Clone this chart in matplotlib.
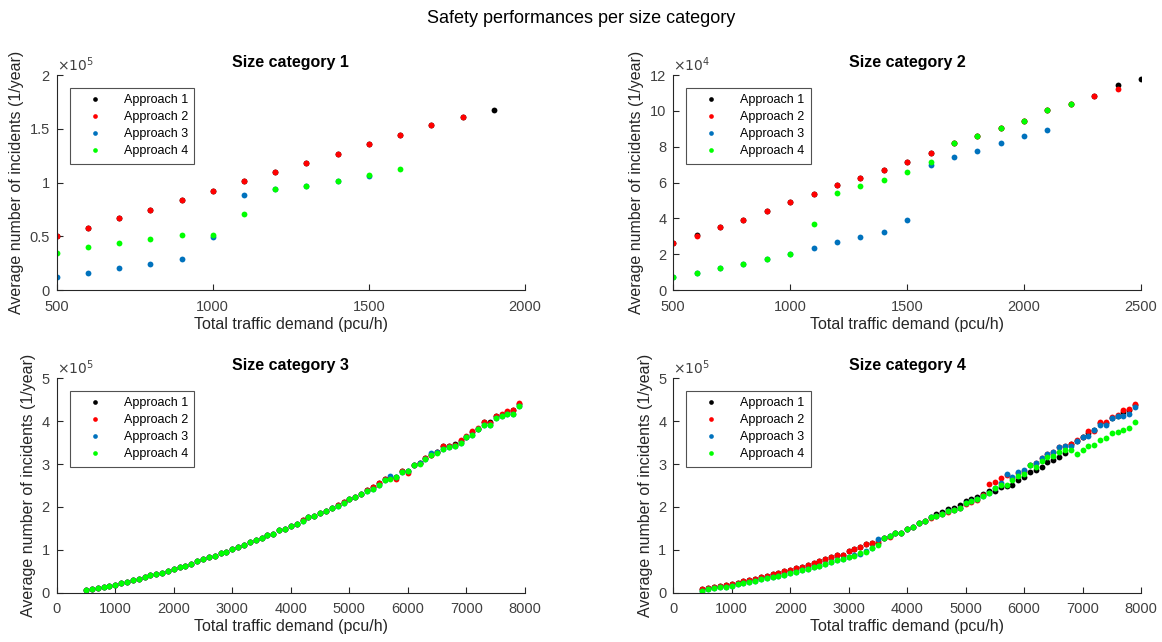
import matplotlib
matplotlib.use("Agg")
import matplotlib.pyplot as plt
from matplotlib.ticker import FuncFormatter

# ---- data (y values in units of 1e5 or 1e4, see SCALES) ----
labels = ["Approach 1", "Approach 2", "Approach 3", "Approach 4"]
colors = ["#000000", "#ff0000", "#0072bd", "#00ff00"]
titles = ["Size category 1", "Size category 2", "Size category 3", "Size category 4"]
scales = [5, 4, 5, 5]

# size category 1
x1_a1 = [500, 600, 700, 800, 900, 1000, 1100, 1200, 1300, 1400, 1500, 1600, 1700, 1800, 1900]
y1_a1 = [0.50, 0.577, 0.67, 0.747, 0.84, 0.926, 1.012, 1.10, 1.185, 1.268, 1.358, 1.441, 1.54, 1.608, 1.679]
x1_a2 = [500, 600, 700, 800, 900, 1000, 1100, 1200, 1300, 1400, 1500, 1600, 1700, 1800]
y1_a2 = [0.50, 0.577, 0.67, 0.747, 0.84, 0.926, 1.012, 1.10, 1.185, 1.268, 1.358, 1.441, 1.54, 1.608]
x1_a3 = [500, 600, 700, 800, 900, 1000, 1100, 1200, 1300, 1400, 1500]
y1_a3 = [0.127, 0.164, 0.207, 0.244, 0.29, 0.49, 0.883, 0.938, 0.969, 1.012, 1.065]
x1_a4 = [500, 600, 700, 800, 900, 1000, 1100, 1200, 1300, 1400, 1500, 1600]
y1_a4 = [0.346, 0.404, 0.435, 0.475, 0.515, 0.515, 0.713, 0.938, 0.969, 1.012, 1.068, 1.127]

# size category 2
x2_a1 = [500, 600, 700, 800, 900, 1000, 1100, 1200, 1300, 1400, 1500, 1600, 1700, 1800,
         1900, 2000, 2100, 2200, 2300, 2400, 2500]
y2_a1 = [2.65, 3.10, 3.51, 3.91, 4.41, 4.90, 5.35, 5.85, 6.26, 6.71, 7.18, 7.68, 8.20, 8.60,
         9.05, 9.44, 10.04, 10.41, 10.84, 11.46, 11.78]
x2_a2 = [500, 600, 700, 800, 900, 1000, 1100, 1200, 1300, 1400, 1500, 1600, 1700, 1800,
         1900, 2000, 2100, 2200, 2300, 2400]
y2_a2 = [2.65, 3.03, 3.51, 3.91, 4.41, 4.90, 5.35, 5.85, 6.26, 6.71, 7.18, 7.68, 8.20, 8.60,
         9.05, 9.44, 10.04, 10.41, 10.84, 11.21]
x2_a3 = [500, 600, 700, 800, 900, 1000, 1100, 1200, 1300, 1400, 1500, 1600, 1700, 1800,
         1900, 2000, 2100]
y2_a3 = [0.75, 0.95, 1.21, 1.46, 1.74, 2.04, 2.34, 2.69, 2.97, 3.25, 3.94, 7.00, 7.44, 7.76,
         8.24, 8.60, 8.95]
x2_a4 = [500, 600, 700, 800, 900, 1000, 1100, 1200, 1300, 1400, 1500, 1600, 1700, 1800,
         1900, 2000, 2100, 2200]
y2_a4 = [0.75, 0.95, 1.21, 1.46, 1.74, 2.04, 3.70, 5.44, 5.83, 6.17, 6.60, 7.16, 8.20, 8.60,
         9.05, 9.44, 10.04, 10.41]

# size categories 3 and 4: demand 500..7900 step 100
x_big = list(range(500, 8000, 100))

y3_a1 = [0.056, 0.086, 0.11, 0.133, 0.156, 0.18, 0.219, 0.257, 0.289, 0.327, 0.366, 0.406, 0.429, 0.467,
         0.506, 0.545, 0.592, 0.63, 0.677, 0.732, 0.779, 0.826,
         0.86, 0.919, 0.949, 1.026, 1.066, 1.113, 1.176, 1.222, 1.283, 1.346, 1.376, 1.463, 1.486,
         1.549, 1.603, 1.70, 1.766, 1.796, 1.859, 1.906, 1.969, 2.035, 2.12, 2.179, 2.24, 2.302,
         2.40, 2.46, 2.55, 2.64, 2.67, 2.70, 2.84, 2.83, 2.98, 3.02, 3.13, 3.22, 3.27, 3.42,
         3.43, 3.46, 3.54, 3.64, 3.75, 3.82, 3.97, 3.97, 4.11, 4.15, 4.21, 4.27, 4.39]
y3_a2 = [0.056, 0.086, 0.11, 0.133, 0.156, 0.18, 0.219, 0.257, 0.289, 0.327, 0.366, 0.406, 0.429, 0.467,
         0.506, 0.545, 0.592, 0.63, 0.677, 0.732, 0.779, 0.826,
         0.86, 0.919, 0.949, 1.026, 1.066, 1.113, 1.176, 1.222, 1.283, 1.346, 1.376, 1.463, 1.486,
         1.549, 1.603, 1.70, 1.766, 1.796, 1.859, 1.906, 1.969, 2.035, 2.12, 2.179, 2.24, 2.302,
         2.40, 2.47, 2.56, 2.66, 2.67, 2.66, 2.84, 2.80, 2.98, 3.02, 3.14, 3.22, 3.27, 3.42,
         3.43, 3.45, 3.56, 3.65, 3.77, 3.83, 3.99, 3.95, 4.12, 4.16, 4.23, 4.26, 4.42]
y3_a3 = [0.056, 0.086, 0.11, 0.133, 0.156, 0.18, 0.219, 0.257, 0.289, 0.327, 0.366, 0.406, 0.429, 0.467,
         0.506, 0.545, 0.592, 0.63, 0.677, 0.732, 0.779, 0.826,
         0.86, 0.919, 0.949, 1.026, 1.066, 1.113, 1.176, 1.222, 1.283, 1.346, 1.376, 1.463, 1.486,
         1.549, 1.603, 1.68, 1.766, 1.796, 1.859, 1.906, 1.969, 2.015, 2.10, 2.179, 2.24, 2.302,
         2.38, 2.42, 2.52, 2.62, 2.73, 2.69, 2.81, 2.83, 2.97, 3.03, 3.11, 3.26, 3.27, 3.34,
         3.40, 3.42, 3.50, 3.63, 3.68, 3.81, 3.90, 3.90, 4.07, 4.11, 4.16, 4.17, 4.35]
y3_a4 = [0.056, 0.086, 0.11, 0.133, 0.156, 0.18, 0.219, 0.257, 0.289, 0.327, 0.366, 0.406, 0.429, 0.467,
         0.506, 0.545, 0.592, 0.63, 0.677, 0.732, 0.779, 0.826,
         0.86, 0.919, 0.949, 1.026, 1.066, 1.113, 1.176, 1.222, 1.283, 1.346, 1.376, 1.463, 1.486,
         1.549, 1.603, 1.68, 1.766, 1.796, 1.859, 1.906, 1.969, 2.015, 2.10, 2.179, 2.24, 2.302,
         2.38, 2.42, 2.52, 2.62, 2.65, 2.69, 2.81, 2.83, 2.97, 3.00, 3.11, 3.21, 3.26, 3.34,
         3.40, 3.42, 3.50, 3.63, 3.68, 3.81, 3.90, 3.90, 4.07, 4.11, 4.16, 4.17, 4.35]

y4_a1 = [0.079, 0.103, 0.133, 0.156, 0.18, 0.203, 0.233, 0.266, 0.296, 0.327, 0.359, 0.39, 0.429, 0.467,
         0.499, 0.53, 0.576, 0.60, 0.646, 0.70, 0.746, 0.786, 0.826,
         0.872, 0.887, 0.965, 1.012, 1.059, 1.129, 1.159,
         1.15, 1.276, 1.323, 1.385, 1.40, 1.486, 1.54, 1.626, 1.68,
         1.77, 1.83, 1.88, 1.94, 1.97, 2.05, 2.13, 2.18, 2.22, 2.30,
         2.36, 2.38, 2.47, 2.49, 2.51, 2.63, 2.69, 2.81, 2.86, 2.93, 3.04, 3.09, 3.17, 3.26,
         3.46, 3.54, 3.62, 3.72, 3.79, 3.96, 3.95, 4.08, 4.13, 4.22, 4.27, 4.38]
y4_a2 = [0.079, 0.103, 0.133, 0.156, 0.18, 0.203, 0.233, 0.266, 0.296, 0.327, 0.359, 0.39, 0.429, 0.467,
         0.499, 0.53, 0.576, 0.60, 0.646, 0.70, 0.746, 0.786, 0.826,
         0.872, 0.887, 0.965, 1.012, 1.059, 1.129, 1.159, 1.20,
         1.276, 1.31, 1.385, 1.39, 1.486, 1.53, 1.626, 1.67, 1.74, 1.78, 1.83, 1.89, 1.92, 1.97,
         2.07, 2.12, 2.16,
         2.27, 2.54, 2.57, 2.67, 2.74, 2.68, 2.80, 2.84, 2.97, 3.02, 3.13, 3.23, 3.27, 3.40,
         3.43, 3.47, 3.55, 3.63, 3.76, 3.78, 3.99, 3.97, 4.09, 4.14, 4.25, 4.29, 4.41]
y4_a3 = [0.047, 0.079, 0.11, 0.133, 0.14, 0.163, 0.196, 0.226, 0.25, 0.28, 0.313, 0.336, 0.359, 0.39,
         0.42, 0.453, 0.483, 0.52, 0.553, 0.60, 0.63, 0.677, 0.716,
         0.755, 0.786, 0.84, 0.87, 0.91, 0.97, 1.04, 1.245,
         1.276, 1.323, 1.385, 1.40, 1.486, 1.54, 1.626, 1.68, 1.759, 1.797, 1.843, 1.906, 1.929,
         1.983, 2.085, 2.132, 2.179, 2.26, 2.33, 2.43,
         2.55, 2.77, 2.69, 2.81, 2.85, 2.98, 3.03, 3.14, 3.24, 3.28, 3.39, 3.42,
         3.43, 3.53, 3.62, 3.66, 3.80, 3.91, 3.90, 4.07, 4.11, 4.13, 4.17, 4.34]
y4_a4 = [0.047, 0.079, 0.11, 0.133, 0.14, 0.163, 0.196, 0.226, 0.25, 0.28, 0.313, 0.336, 0.359, 0.39,
         0.42, 0.453, 0.483, 0.52, 0.553, 0.60, 0.63, 0.677, 0.716,
         0.755, 0.786, 0.84, 0.86, 0.919, 0.96, 1.035, 1.105,
         1.276, 1.323, 1.385, 1.40, 1.486, 1.54, 1.626, 1.68, 1.759, 1.797, 1.843, 1.906, 1.929,
         1.983, 2.085, 2.132, 2.179,
         2.26, 2.33, 2.43, 2.52, 2.52, 2.62, 2.72, 2.76, 2.98, 2.93, 3.06, 3.17, 3.19, 3.27,
         3.32, 3.32, 3.23, 3.33, 3.41, 3.45, 3.55, 3.60, 3.73, 3.75, 3.80, 3.84, 3.97]

panels = [
    [(x1_a1, y1_a1), (x1_a2, y1_a2), (x1_a3, y1_a3), (x1_a4, y1_a4)],
    [(x2_a1, y2_a1), (x2_a2, y2_a2), (x2_a3, y2_a3), (x2_a4, y2_a4)],
    [(x_big, y3_a1), (x_big, y3_a2), (x_big, y3_a3), (x_big, y3_a4)],
    [(x_big, y4_a1), (x_big, y4_a2), (x_big, y4_a3), (x_big, y4_a4)],
]
xlims = [(500, 2000), (500, 2500), (0, 8000), (0, 8000)]
ylims = [(0, 2), (0, 12), (0, 5), (0, 5)]
xticks = [[500, 1000, 1500, 2000], [500, 1000, 1500, 2000, 2500],
          list(range(0, 8001, 1000)), list(range(0, 8001, 1000))]
yticks = [[0, 0.5, 1, 1.5, 2], [0, 2, 4, 6, 8, 10, 12], [0, 1, 2, 3, 4, 5], [0, 1, 2, 3, 4, 5]]

plt.rcParams["font.family"] = "Liberation Sans"
fig = plt.figure(figsize=(11.62, 6.42), dpi=100)
fig.suptitle("Safety performances per size category", fontsize=13, y=0.985)

positions = [
    [0.0488, 0.548, 0.403, 0.335],
    [0.5794, 0.548, 0.4025, 0.335],
    [0.0488, 0.0768, 0.403, 0.334],
    [0.5794, 0.0768, 0.4025, 0.334],
]
axis_gray = "#262626"
label_gray = "#404040"

for i, series in enumerate(panels):
    ax = fig.add_axes(positions[i])
    for (xs, ys), lab, col in zip(series, labels, colors):
        ax.plot(xs, ys, linestyle="none", marker="o", markersize=4.2,
                markeredgewidth=0, color=col, label=lab)
    ax.set_xlim(*xlims[i])
    ax.set_ylim(*ylims[i])
    ax.set_xticks(xticks[i])
    ax.set_yticks(yticks[i])
    ax.yaxis.set_major_formatter(FuncFormatter(lambda v, p: "%g" % v))
    ax.spines["top"].set_visible(False)
    ax.spines["right"].set_visible(False)
    for s in ("left", "bottom"):
        ax.spines[s].set_color(axis_gray)
        ax.spines[s].set_linewidth(0.8)
    ax.tick_params(direction="in", length=4, width=0.8, colors=axis_gray,
                   labelsize=10.5, labelcolor=label_gray)
    ax.tick_params(axis="x", pad=7)
    ax.tick_params(axis="y", pad=5)
    ax.set_title(titles[i], fontsize=11.5, fontweight="bold", pad=6)
    ax.set_xlabel("Total traffic demand (pcu/h)", fontsize=11.5, labelpad=2, color=axis_gray)
    ax.set_ylabel("Average number of incidents (1/year)", fontsize=11.5, labelpad=4, color=axis_gray)
    ax.text(0.0, 1.005, r"$\times10^{%d}$" % scales[i], transform=ax.transAxes,
            fontsize=10, color=label_gray, ha="left", va="bottom")
    leg = ax.legend(loc="upper left", bbox_to_anchor=(0.028, 0.94), borderaxespad=0,
                    fontsize=9, frameon=True, fancybox=False, handlelength=3.0,
                    handletextpad=0.8, labelspacing=0.4, borderpad=0.5, markerscale=0.8)
    leg.get_frame().set_edgecolor(axis_gray)
    leg.get_frame().set_linewidth(0.8)

fig.savefig("out.png", dpi=100)
